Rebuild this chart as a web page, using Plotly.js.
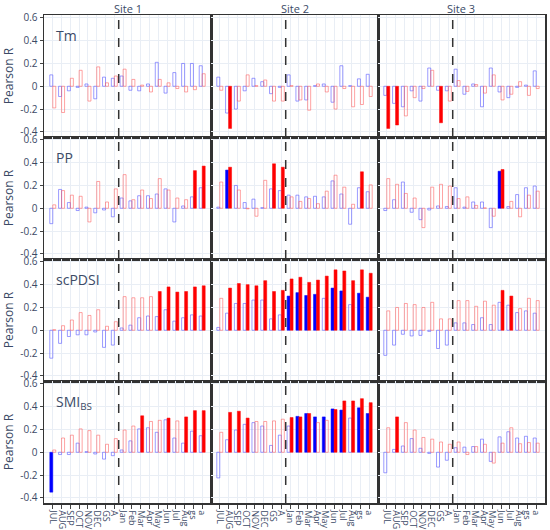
<!DOCTYPE html>
<html>
<head>
<meta charset="utf-8">
<script src="https://cdn.plot.ly/plotly-3.0.1.min.js"></script>
<style>html,body{margin:0;padding:0;background:#fff;}#chart{width:550px;height:530px;}</style>
</head>
<body>
<div id="chart"></div>
<script>
// ---- categories (previous year uppercase, current year lowercase) ----
const categories = ["JUL","AUG","SEP","OCT","NOV","DEC","GS","A","Jan","Feb","Mar","Apr","May","Jun","Jul","Aug","gs","a"];
const sites = ["Site 1","Site 2","Site 3"];
const variables = ["Tm","PP","scPDSI","SMI<sub>BS</sub>"];

// ---- Tm ----
const tmS1Blue = [0.10,-0.09,-0.04,-0.01,0.02,-0.11,0.08,0.07,0.09,-0.035,-0.04,0.02,0.21,-0.06,0.12,0.20,0.20,0.18];
const tmS1Red  = [-0.19,-0.23,0.07,0.14,-0.13,0.17,0.03,0.09,0.15,0.06,0.01,-0.05,0.06,0.03,-0.02,-0.05,-0.03,0.11];
const tmS2Blue = [0.08,-0.235,-0.20,-0.04,0.07,0.04,-0.065,-0.01,0.10,-0.13,-0.12,0.005,0.02,-0.14,0.18,0.005,0.065,0.105];
const tmS2Red  = [-0.035,-0.37,-0.13,0.10,0.005,0.055,-0.13,-0.13,0.005,-0.12,-0.21,0.02,-0.05,-0.20,-0.02,-0.18,-0.16,-0.09];
const tmS3Blue = [-0.08,-0.15,-0.18,-0.04,-0.13,0.16,-0.035,-0.04,0.15,-0.07,0.02,-0.18,0.16,-0.05,-0.10,-0.01,0.01,0.135];
const tmS3Red  = [-0.37,-0.34,-0.26,-0.10,-0.02,0.14,-0.32,-0.13,0.05,-0.045,0.015,-0.06,0.10,-0.12,-0.07,0.04,-0.08,-0.02];
// ---- PP ----
const ppS1Blue = [-0.135,0.165,0.05,-0.02,0.01,-0.04,-0.015,-0.075,0.09,0.065,0.11,0.11,0.125,0.17,-0.12,0.02,0.10,0.18];
const ppS1Red  = [0.03,0.155,0.115,0.105,-0.12,0.235,0.055,0.17,0.295,0.075,0.16,0.085,0.26,0.16,0.09,0.075,0.33,0.37];
const ppS2Blue = [0.01,0.335,0.20,0.05,0.08,0.005,0.17,0.155,0.115,0.115,0.10,0.105,0.10,0.24,0.125,-0.14,0.18,0.145];
const ppS2Red  = [0.23,0.36,0.16,-0.005,-0.07,0.245,0.39,0.36,0.10,0.06,0.085,0.04,0.15,0.29,0.185,0.035,0.32,0.205];
const ppS3Blue = [-0.02,0.075,0.23,-0.035,-0.10,-0.015,0.02,0.015,0.18,0.01,0.055,0.055,-0.17,0.325,0.015,0.12,0.18,0.195];
const ppS3Red  = [0.26,0.21,0.13,0.09,-0.17,0.185,0.21,0.195,0.085,0.10,0.025,0.003,-0.07,0.34,0.06,-0.075,0.115,0.15];
// ---- scPDSI ----
const pdS1Blue = [-0.245,-0.115,-0.055,-0.04,-0.04,-0.015,-0.15,-0.13,0.02,0.045,0.11,0.125,0.12,0.18,0.08,0.11,0.135,0.125];
const pdS1Red  = [0.005,0.04,0.09,0.155,0.13,0.18,0.035,0.075,0.295,0.285,0.285,0.295,0.34,0.38,0.335,0.34,0.38,0.39];
const pdS2Blue = [0.025,0.15,0.235,0.235,0.265,0.265,0.10,0.135,0.30,0.33,0.305,0.315,0.28,0.37,0.345,0.225,0.325,0.29];
const pdS2Red  = [0.28,0.37,0.41,0.40,0.39,0.435,0.34,0.35,0.45,0.465,0.42,0.44,0.475,0.53,0.52,0.435,0.53,0.50];
const pdS3Blue = [-0.22,-0.13,-0.035,-0.05,-0.045,-0.01,-0.16,-0.13,0.065,0.065,0.05,0.11,0.05,0.245,0.22,0.155,0.17,0.15];
const pdS3Red  = [0.17,0.20,0.235,0.225,0.20,0.245,0.10,0.10,0.26,0.26,0.21,0.255,0.22,0.35,0.30,0.19,0.28,0.26];
// ---- SMI_BS ----
const smS1Blue = [-0.35,-0.02,-0.02,0.08,0.005,-0.015,-0.06,-0.03,0.02,0.10,0.205,0.215,0.175,0.285,0.125,0.08,0.185,0.145];
const smS1Red  = [0.02,0.125,0.15,0.205,0.19,0.15,0.07,0.12,0.195,0.23,0.32,0.27,0.28,0.30,0.275,0.31,0.365,0.365];
const smS2Blue = [-0.225,0.11,0.195,0.245,0.26,0.23,0.06,0.15,0.23,0.315,0.34,0.31,0.31,0.38,0.37,0.30,0.39,0.34];
const smS2Red  = [0.175,0.35,0.36,0.30,0.27,0.27,0.275,0.29,0.305,0.31,0.34,0.26,0.28,0.375,0.45,0.45,0.47,0.435];
const smS3Blue = [-0.18,0.025,0.055,0.12,0.035,-0.01,-0.13,-0.07,0.04,0.045,0.05,0.115,-0.08,0.135,0.18,0.125,0.14,0.125];
const smS3Red  = [0.215,0.31,0.26,0.195,0.13,0.115,0.09,0.07,0.09,-0.02,0.05,0.07,-0.095,0.08,0.215,0.075,0.085,0.08];

// ---- significant (filled) bars: category indices ----
const tmS1SigBlue = [], tmS1SigRed = [];
const tmS2SigBlue = [], tmS2SigRed = [1];
const tmS3SigBlue = [], tmS3SigRed = [0,1,6];
const ppS1SigBlue = [], ppS1SigRed = [16,17];
const ppS2SigBlue = [1], ppS2SigRed = [1,6,7,16];
const ppS3SigBlue = [13], ppS3SigRed = [13];
const pdS1SigBlue = [], pdS1SigRed = [12,13,14,15,16,17];
const pdS2SigBlue = [8,9,10,11,13,14,16,17], pdS2SigRed = [1,2,3,4,5,6,7,8,9,10,11,12,13,14,15,16,17];
const pdS3SigBlue = [], pdS3SigRed = [13,14];
const smS1SigBlue = [0], smS1SigRed = [10,13,15,16,17];
const smS2SigBlue = [9,10,11,12,13,14,16,17], smS2SigRed = [1,2,3,8,9,10,13,14,15,16,17];
const smS3SigBlue = [], smS3SigRed = [1];

const panels = [
  [tmS1Blue,tmS1Red,tmS1SigBlue,tmS1SigRed],[tmS2Blue,tmS2Red,tmS2SigBlue,tmS2SigRed],[tmS3Blue,tmS3Red,tmS3SigBlue,tmS3SigRed],
  [ppS1Blue,ppS1Red,ppS1SigBlue,ppS1SigRed],[ppS2Blue,ppS2Red,ppS2SigBlue,ppS2SigRed],[ppS3Blue,ppS3Red,ppS3SigBlue,ppS3SigRed],
  [pdS1Blue,pdS1Red,pdS1SigBlue,pdS1SigRed],[pdS2Blue,pdS2Red,pdS2SigBlue,pdS2SigRed],[pdS3Blue,pdS3Red,pdS3SigBlue,pdS3SigRed],
  [smS1Blue,smS1Red,smS1SigBlue,smS1SigRed],[smS2Blue,smS2Red,smS2SigBlue,smS2SigRed],[smS3Blue,smS3Red,smS3SigBlue,smS3SigRed]
];

const FONT = 'Open Sans, sans-serif';
const TXT = '#3b4a66';
const xIdx = categories.map((c,i)=>i);
const traces = [];
const layout = {
  width:550, height:530,
  margin:{l:44, r:5, t:15, b:27},
  paper_bgcolor:'#fff', plot_bgcolor:'#fff',
  barmode:'group', bargap:0.32, bargroupgap:0,
  showlegend:false,
  font:{family:FONT, color:TXT, size:10},
  shapes:[], annotations:[]
};

const rowH = 1/4, colW = 1/3;
panels.forEach((p, k) => {
  const r = Math.floor(k/3), c = k%3;
  const n = k+1;
  const xa = n===1 ? 'x' : 'x'+n, ya = n===1 ? 'y' : 'y'+n;
  const [blue, red, sb, sr] = p;
  traces.push({
    type:'bar', x:xIdx, y:blue, xaxis:xa, yaxis:ya, hoverinfo:'none',
    marker:{color: blue.map((v,i)=> sb.includes(i) ? 'rgb(0,0,255)' : 'rgba(255,255,255,0)'),
            line:{color: blue.map((v,i)=> sb.includes(i) ? 'rgb(0,0,255)' : 'rgba(90,90,255,0.6)'),
                  width: blue.map((v,i)=> sb.includes(i) ? 0.5 : 1)}}
  });
  traces.push({
    type:'bar', x:xIdx, y:red, xaxis:xa, yaxis:ya, hoverinfo:'none',
    marker:{color: red.map((v,i)=> sr.includes(i) ? 'rgb(255,0,0)' : 'rgba(255,255,255,0)'),
            line:{color: red.map((v,i)=> sr.includes(i) ? 'rgb(255,0,0)' : 'rgba(255,90,90,0.55)'),
                  width: red.map((v,i)=> sr.includes(i) ? 0.5 : 1)}}
  });
  const xKey = n===1 ? 'xaxis' : 'xaxis'+n, yKey = n===1 ? 'yaxis' : 'yaxis'+n;
  layout[xKey] = {
    domain:[c*colW, (c+1)*colW], anchor:ya,
    range:[-1, 18], tickvals:xIdx, ticktext:categories,
    showticklabels: r===3, tickangle:90, ticks: r===3 ? 'outside' : '', ticklen:4, tickcolor:'#444',
    tickfont:{size:9, color:TXT},
    showgrid:true, gridcolor:'#e9eef5', gridwidth:1, zeroline:false,
    showline:true, mirror:true, linecolor:'#333', linewidth:1.5, fixedrange:true
  };
  const yax = {
    domain:[1-(r+1)*rowH, 1-r*rowH], anchor:xa,
    range:[-0.445, 0.625], tickvals:[-0.4,-0.2,0,0.2,0.4,0.6], ticktext:['-0.4','-0.2','0','0.2','0.4','0.6'],
    showticklabels: c===0, ticks: c===0 ? 'outside' : '', ticklen:3, tickcolor:'#444',
    tickfont:{size:10, color:TXT},
    showgrid:true, gridcolor:'#e9eef5', gridwidth:1, zeroline:false,
    showline:true, mirror:true, linecolor:'#333', linewidth:1.5, fixedrange:true
  };
  if (c===0) yax.title = {text:'Pearson R', font:{size:12, color:TXT}, standoff:6};
  layout[yKey] = yax;
  layout.shapes.push({type:'line', xref:xa, yref:ya+' domain', x0:7.5, x1:7.5, y0:0, y1:1,
    line:{color:'#333', width:1.5, dash:'dash'}});
  if (c===0) {
    layout.annotations.push({xref:xa+' domain', yref:ya+' domain', x:0.06, y:0.93, xanchor:'left', yanchor:'top',
      text:variables[r], showarrow:false, font:{size:14, color:TXT}});
  }
  if (r===0) {
    layout.annotations.push({xref:'paper', yref:'paper', x:(c+0.5)*colW, y:1, xanchor:'center', yanchor:'bottom',
      yshift:-2, borderpad:0, text:sites[c], showarrow:false, font:{size:11, color:TXT}});
  }
});

Plotly.newPlot('chart', traces, layout, {displayModeBar:false, staticPlot:true});
</script>
</body>
</html>
